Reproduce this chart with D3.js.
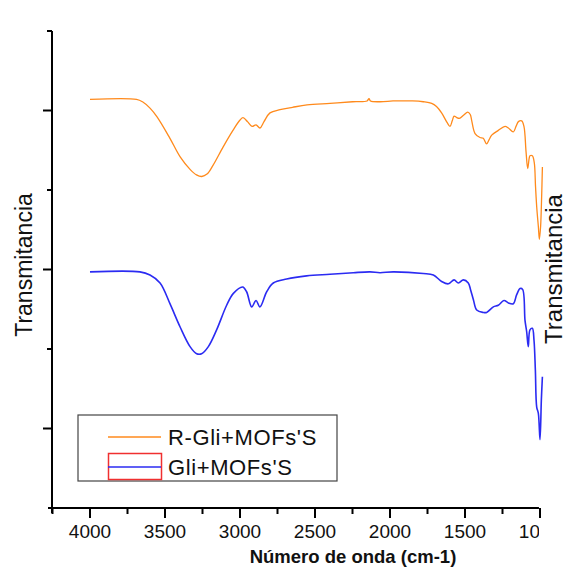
<!DOCTYPE html>
<html>
<head>
<meta charset="utf-8">
<script src="https://cdn.jsdelivr.net/npm/d3@7"></script>
<style>
  html, body { margin: 0; padding: 0; background: #fff; }
  svg { display: block; font-family: "Liberation Sans", Arial, sans-serif; }
</style>
</head>
<body>
<svg id="chart" width="566" height="571"></svg>
<script>
// FTIR spectra: wavenumber (cm-1) and offset transmittance (axis units)
const seriesNames = ["R-Gli+MOFs'S", "Gli+MOFs'S"];

const rGliWavenumber = [4000, 3690, 3650, 3600, 3553, 3467, 3400, 3333, 3290, 3255, 3220, 3180, 3113, 3047, 3000, 2980, 2950, 2920, 2893, 2867, 2840, 2800, 2733, 2650, 2553, 2400, 2250, 2153, 2140, 2130, 2067, 1980, 1933, 1850, 1778, 1722, 1690, 1656, 1620, 1600, 1585, 1573, 1555, 1538, 1510, 1482, 1465, 1456, 1433, 1400, 1378, 1356, 1340, 1322, 1278, 1233, 1211, 1178, 1160, 1144, 1122, 1107, 1093, 1082, 1072, 1067, 1051, 1038, 1030, 1022, 1011, 1004, 996, 989, 984];
const rGliValue = [5.14, 5.14, 5.11, 5.03, 4.92, 4.65, 4.42, 4.26, 4.19, 4.17, 4.20, 4.31, 4.54, 4.75, 4.88, 4.91, 4.86, 4.80, 4.82, 4.78, 4.86, 4.97, 5.01, 5.04, 5.07, 5.09, 5.11, 5.12, 5.15, 5.12, 5.11, 5.12, 5.12, 5.12, 5.11, 5.09, 5.05, 4.97, 4.85, 4.80, 4.87, 4.93, 4.91, 4.90, 4.94, 4.98, 4.95, 4.88, 4.71, 4.66, 4.65, 4.58, 4.63, 4.69, 4.75, 4.80, 4.78, 4.73, 4.80, 4.86, 4.87, 4.80, 4.48, 4.27, 4.40, 4.43, 4.43, 4.34, 4.05, 3.79, 3.54, 3.38, 3.54, 3.92, 4.29];

const gliWavenumber = [4000, 3667, 3600, 3533, 3467, 3400, 3333, 3289, 3256, 3211, 3156, 3089, 3044, 2982, 2956, 2922, 2893, 2867, 2822, 2778, 2689, 2556, 2400, 2244, 2133, 2067, 1978, 1778, 1711, 1656, 1611, 1573, 1544, 1511, 1478, 1462, 1444, 1422, 1378, 1356, 1311, 1278, 1240, 1211, 1178, 1156, 1133, 1116, 1100, 1089, 1078, 1067, 1051, 1040, 1031, 1022, 1011, 1000, 991, 984];
const gliValue = [2.97, 2.97, 2.93, 2.83, 2.57, 2.28, 2.03, 1.94, 1.94, 2.03, 2.24, 2.55, 2.70, 2.78, 2.72, 2.53, 2.61, 2.53, 2.72, 2.83, 2.88, 2.92, 2.94, 2.96, 2.97, 2.96, 2.97, 2.95, 2.93, 2.85, 2.82, 2.87, 2.83, 2.87, 2.83, 2.74, 2.62, 2.49, 2.46, 2.46, 2.53, 2.55, 2.61, 2.58, 2.57, 2.68, 2.76, 2.75, 2.36, 2.22, 2.03, 2.24, 2.26, 2.11, 1.74, 1.27, 1.19, 0.86, 1.36, 1.65];

const xTickValues = [4000, 3500, 3000, 2500, 2000, 1500, 1000];
const xMinorTicks = [4250, 3750, 3250, 2750, 2250, 1750, 1250];
const yMajorTicks = [1, 3, 5];
const yMinorTicks = [0, 2, 4, 6];

const colors = ["#ff8a1c", "#2b2bf2"];

const svg = d3.select("#chart");

// wavenumber decreases to the right
const x = d3.scaleLinear().domain([4000, 1000]).range([90, 540]);
const y = d3.scaleLinear().domain([0, 6]).range([508, 31]);
const xLeft = 4280, xRight = 1007;

// clip for the x tick labels at the end of the axis
svg.append("defs").append("clipPath").attr("id", "xclip")
  .append("rect").attr("x", 0).attr("y", 500).attr("width", x(xRight)).attr("height", 60);

// spectra
const line = d3.line()
  .x(d => x(d[0])).y(d => y(d[1]))
  .curve(d3.curveCatmullRom.alpha(0.5));
const series = [
  d3.zip(rGliWavenumber, rGliValue),
  d3.zip(gliWavenumber, gliValue)
];
series.forEach((s, i) => {
  svg.append("path")
    .datum(s)
    .attr("d", line)
    .attr("fill", "none")
    .attr("stroke", colors[i])
    .attr("stroke-width", i === 0 ? 1.3 : 1.6)
    .attr("stroke-linejoin", "round");
});

// x axis
const xAxisG = svg.append("g").attr("transform", `translate(0,${y(0)})`);
xAxisG.append("line")
  .attr("x1", x(xLeft)).attr("x2", x(xRight))
  .attr("y1", 0).attr("y2", 0)
  .attr("stroke", "#000").attr("stroke-width", 2);
xAxisG.selectAll(".xmaj").data(xTickValues).join("line")
  .attr("x1", d => x(d)).attr("x2", d => x(d))
  .attr("y1", 0).attr("y2", 10)
  .attr("stroke", "#000").attr("stroke-width", 2);
xAxisG.selectAll(".xmin").data(xMinorTicks).join("line")
  .attr("x1", d => x(d)).attr("x2", d => x(d))
  .attr("y1", 0).attr("y2", 6)
  .attr("stroke", "#000").attr("stroke-width", 2);
xAxisG.append("g").attr("clip-path", "url(#xclip)")
  .attr("transform", `translate(0,${-y(0)})`)
  .selectAll("text").data(xTickValues).join("text")
  .attr("x", d => x(d)).attr("y", 538)
  .attr("text-anchor", "middle")
  .attr("font-size", 19)
  .attr("fill", "#111")
  .text(d => d);

svg.append("text")
  .attr("x", 353).attr("y", 563)
  .attr("text-anchor", "middle")
  .attr("font-size", 18.5)
  .attr("font-weight", "bold")
  .attr("fill", "#111")
  .text("Número de onda (cm-1)");

// y axis (no tick labels)
const yAxisX = 52;
svg.append("line")
  .attr("x1", yAxisX).attr("x2", yAxisX)
  .attr("y1", y(6)).attr("y2", y(0) + 5)
  .attr("stroke", "#000").attr("stroke-width", 2);
svg.selectAll(".ymaj").data(yMajorTicks).join("line")
  .attr("x1", yAxisX - 9).attr("x2", yAxisX)
  .attr("y1", d => y(d)).attr("y2", d => y(d))
  .attr("stroke", "#000").attr("stroke-width", 2);
svg.selectAll(".ymin").data(yMinorTicks.filter(d => d > 0)).join("line")
  .attr("x1", yAxisX - 5).attr("x2", yAxisX)
  .attr("y1", d => y(d)).attr("y2", d => y(d))
  .attr("stroke", "#000").attr("stroke-width", 2);

svg.append("text")
  .attr("transform", "translate(32,265) rotate(-90)")
  .attr("text-anchor", "middle")
  .attr("font-size", 23)
  .attr("fill", "#111")
  .text("Transmitancia");

svg.append("text")
  .attr("transform", "translate(562,269) rotate(-90)")
  .attr("text-anchor", "middle")
  .attr("font-size", 24)
  .attr("fill", "#111")
  .text("Transmitancia");

// legend
const lg = svg.append("g");
lg.append("rect")
  .attr("x", 78).attr("y", 415).attr("width", 259).attr("height", 66)
  .attr("fill", "#fff").attr("stroke", "#444").attr("stroke-width", 1.2);
const legendRows = [437, 467];
lg.append("rect")
  .attr("x", 108.5).attr("y", 453.5).attr("width", 53).attr("height", 26)
  .attr("fill", "none").attr("stroke", "#f03030").attr("stroke-width", 1.5);
seriesNames.forEach((name, i) => {
  lg.append("line")
    .attr("x1", 108).attr("x2", 161)
    .attr("y1", legendRows[i]).attr("y2", legendRows[i])
    .attr("stroke", colors[i]).attr("stroke-width", 1.6);
  lg.append("text")
    .attr("x", 168).attr("y", legendRows[i] + 8)
    .attr("font-size", 22)
    .attr("letter-spacing", 0.6)
    .attr("fill", "#111")
    .text(name);
});
</script>
</body>
</html>
